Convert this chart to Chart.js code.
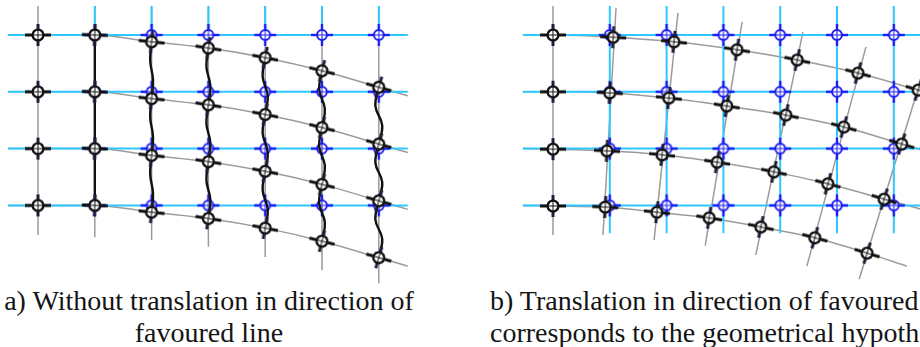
<!DOCTYPE html>
<html>
<head>
<meta charset="utf-8">
<script src="https://cdn.jsdelivr.net/npm/chart.js@4.4.1/dist/chart.umd.min.js"></script>
<style>
  html, body { margin: 0; padding: 0; background: #fff; width: 920px; height: 347px; overflow: hidden; }
  #wrap { position: relative; width: 920px; height: 347px; overflow: hidden; }
  #ca { position: absolute; left: 0; top: 0; }
  #cb { position: absolute; left: 515px; top: 0; }
  .cap { position: absolute; font-family: 'Liberation Serif', 'Times New Roman', serif; font-size: 28px;
         line-height: 32px; color: #141414; white-space: nowrap; }
  #capA { left: 0; top: 285px; width: 418px; text-align: center; }
  #capB { left: 490px; top: 285px; text-align: left; }
</style>
</head>
<body>
<div id="wrap">
  <canvas id="ca" width="460" height="285"></canvas>
  <canvas id="cb" width="405" height="285"></canvas>
  <div class="cap" id="capA">a) Without translation in direction of<br>favoured line</div>
  <div class="cap" id="capB">b) Translation in direction of favoured line<br>corresponds to the geometrical hypothesis</div>
</div>
<script>
// grid spacing in pixels; all data below is in grid units (column index, row index downwards)
const GRID = 56.8;
const ROWS = [0, 1, 2, 3];
const COLS = [0, 1, 2, 3, 4, 5, 6];

// ---- a) deformed grid without translation ----
const dropA = [0, 0, 0.12, 0.23, 0.40, 0.63, 0.92];          // downward shift of each column
const waveA = [0, 0, 0.025, 0.035, 0.045, 0.05, 0.06];       // sideways bend of the column lines
const tiltA = [0, 2, 6, 9, 11, 14, 16];                      // marker rotation, degrees
const rowCurveXA = [-0.53, 0, 1, 2, 3, 4, 5, 6, 6.51];
const rowCurveDropA = [0, 0, 0, 0.12, 0.23, 0.40, 0.63, 0.92, 1.07];
const colLineTopA = -0.51;
const colLineBottomA = [3.52, 3.56, 3.61, 3.73, 3.91, 4.14, 4.37];
const refLeftA = -0.53, refRightA = 6.51;

// ---- b) deformed grid with translation along the favoured line ----
const ptsBx = [
  [0, 1.06, 2.13, 3.24, 4.30, 5.37, 6.43],
  [0, 1.00, 2.04, 3.06, 4.10, 5.12, 6.14],
  [0, 0.95, 1.92, 2.89, 3.89, 4.84, 5.83],
  [0, 0.92, 1.83, 2.75, 3.66, 4.61, 5.53]
];
const ptsBy = [
  [0.00, 0.04, 0.12, 0.26, 0.44, 0.67, 0.97],
  [1.00, 1.02, 1.11, 1.25, 1.41, 1.62, 1.92],
  [2.01, 2.04, 2.11, 2.24, 2.41, 2.62, 2.89],
  [3.01, 3.03, 3.12, 3.22, 3.38, 3.57, 3.84]
];
const rowStartB = -0.53;
const rowEndBx = [7.13, 6.85, 6.53, 6.23];
const rowEndBy = [1.16, 2.13, 3.08, 4.07];
const colTopBx = [0, 1.11, 2.20, 3.33, 4.40, 5.51, 6.88];
const colTopBy = [-0.51, -0.48, -0.39, -0.23, -0.05, 0.21, -0.51];
const colBotBx = [0, 0.88, 1.78, 2.68, 3.57, 4.47, 5.39];
const colBotBy = [3.52, 3.52, 3.61, 3.71, 3.87, 4.07, 4.30];
const tiltB = [0, 3, 6, 9, 12, 15, 17];
const refLeftB = -0.53, refRightB = 6.6, refTopB = -0.51, refBottomB = 3.49;

const GRAY = 'rgb(155,155,155)';
const CYAN = 'rgb(45,200,255)';
const BLUE = 'rgb(30,30,240)';
const BLACK = '#111';

// crosshair marker drawn into a small canvas, used as a point style
function marker(ring, hArm, vArm, hLen, vLen, r, armW, ringW, crossW) {
  const s = 36, m = s / 2;
  const c = document.createElement('canvas');
  c.width = s; c.height = s;
  const g = c.getContext('2d');
  g.lineWidth = armW;
  g.strokeStyle = hArm;
  g.beginPath(); g.moveTo(m - hLen, m); g.lineTo(m + hLen, m); g.stroke();
  g.strokeStyle = vArm;
  g.beginPath(); g.moveTo(m, m - vLen); g.lineTo(m, m + vLen); g.stroke();
  g.fillStyle = '#fff';
  g.beginPath(); g.arc(m, m, r, 0, Math.PI * 2); g.fill();
  g.strokeStyle = ring;
  g.lineWidth = crossW;
  g.beginPath(); g.moveTo(m - r, m); g.lineTo(m + r, m); g.moveTo(m, m - r); g.lineTo(m, m + r); g.stroke();
  g.lineWidth = ringW;
  g.beginPath(); g.arc(m, m, r, 0, Math.PI * 2); g.stroke();
  return c;
}
const blackMark = marker(BLACK, BLACK, '#1e1e3a', 13, 11, 5.4, 3, 2.3, 1);
const blueMark = marker(BLUE, BLUE, BLUE, 11, 11, 4.9, 2.4, 2, 1);

function lineSet(data, color, width, order, tension, mono) {
  return {
    data, showLine: true, borderColor: color, borderWidth: width, pointRadius: 0,
    fill: false, order, tension: tension || 0,
    cubicInterpolationMode: mono ? 'monotone' : 'default'
  };
}
function markSet(data, style, rot, order) {
  return {
    data, showLine: false, pointStyle: style, pointRadius: 6, order,
    pointRotation: (ctx) => rot[ctx.dataIndex] || 0,
    borderColor: 'transparent', backgroundColor: 'transparent'
  };
}
function options(width, height) {
  const xMin = -38 / GRID, yMin = -35 / GRID;
  return {
    responsive: false, animation: false, events: [],
    layout: { padding: 0, autoPadding: false },
    plugins: { legend: { display: false }, tooltip: { enabled: false }, title: { display: false } },
    scales: {
      x: { type: 'linear', display: false, min: xMin, max: xMin + width / GRID },
      y: { type: 'linear', display: false, reverse: true, min: yMin, max: yMin + height / GRID }
    }
  };
}

// ---------- panel a ----------
const dsA = [];
// gray deformed row curves
ROWS.forEach(j => dsA.push(lineSet(rowCurveXA.map((x, k) => ({ x, y: j + rowCurveDropA[k] })), GRAY, 1.5, 5, 0, true)));
// gray column lines
COLS.forEach(i => dsA.push(lineSet([{ x: i, y: colLineTopA }, { x: i, y: colLineBottomA[i] }], GRAY, 1.5, 5)));
// cyan reference lines
ROWS.forEach(j => dsA.push(lineSet([{ x: refLeftA, y: j }, { x: refRightA, y: j }], CYAN, 2, 4)));
COLS.slice(1).forEach(i => dsA.push(lineSet([{ x: i, y: colLineTopA }, { x: i, y: 0 }], CYAN, 2, 4)));
// black bent column lines through the displaced nodes
COLS.slice(1).forEach(i => {
  const d = dropA[i], w = waveA[i], pts = [];
  ROWS.forEach(j => {
    pts.push({ x: i, y: j + d });
    if (j < 3) { pts.push({ x: i - w, y: j + 0.33 + d }); pts.push({ x: i + w, y: j + 0.67 + d }); }
  });
  dsA.push(lineSet(pts, BLACK, 2.4, 2, 0.4));
});
// reference nodes
const refNodesA = [];
COLS.slice(1).forEach(i => ROWS.forEach(j => refNodesA.push({ x: i, y: j })));
dsA.push(markSet(refNodesA, blueMark, [], 3));
// displaced nodes
const nodesA = [], rotA = [];
COLS.forEach(i => ROWS.forEach(j => { nodesA.push({ x: i, y: j + dropA[i] }); rotA.push(tiltA[i]); }));
dsA.push(markSet(nodesA, blackMark, rotA, 0));

new Chart(document.getElementById('ca'), { type: 'scatter', data: { datasets: dsA }, options: options(460, 285) });

// ---------- panel b ----------
const dsB = [];
ROWS.forEach(j => {
  const pts = [{ x: rowStartB, y: j }];
  COLS.forEach(i => pts.push({ x: ptsBx[j][i], y: ptsBy[j][i] }));
  pts.push({ x: rowEndBx[j], y: rowEndBy[j] });
  dsB.push(lineSet(pts, GRAY, 1.5, 5, 0, true));
});
COLS.forEach(i => dsB.push(lineSet([{ x: colTopBx[i], y: colTopBy[i] }, { x: colBotBx[i], y: colBotBy[i] }], GRAY, 1.5, 5)));
ROWS.forEach(j => dsB.push(lineSet([{ x: refLeftB, y: j }, { x: refRightB, y: j }], CYAN, 2, 4)));
COLS.slice(1).forEach(i => dsB.push(lineSet([{ x: i, y: refTopB }, { x: i, y: refBottomB }], CYAN, 2, 4)));
const refNodesB = [];
COLS.slice(1).forEach(i => ROWS.forEach(j => refNodesB.push({ x: i, y: j })));
dsB.push(markSet(refNodesB, blueMark, [], 3));
const nodesB = [], rotB = [];
COLS.forEach(i => ROWS.forEach(j => { nodesB.push({ x: ptsBx[j][i], y: ptsBy[j][i] }); rotB.push(tiltB[i]); }));
dsB.push(markSet(nodesB, blackMark, rotB, 0));

new Chart(document.getElementById('cb'), { type: 'scatter', data: { datasets: dsB }, options: options(405, 285) });
</script>
</body>
</html>
